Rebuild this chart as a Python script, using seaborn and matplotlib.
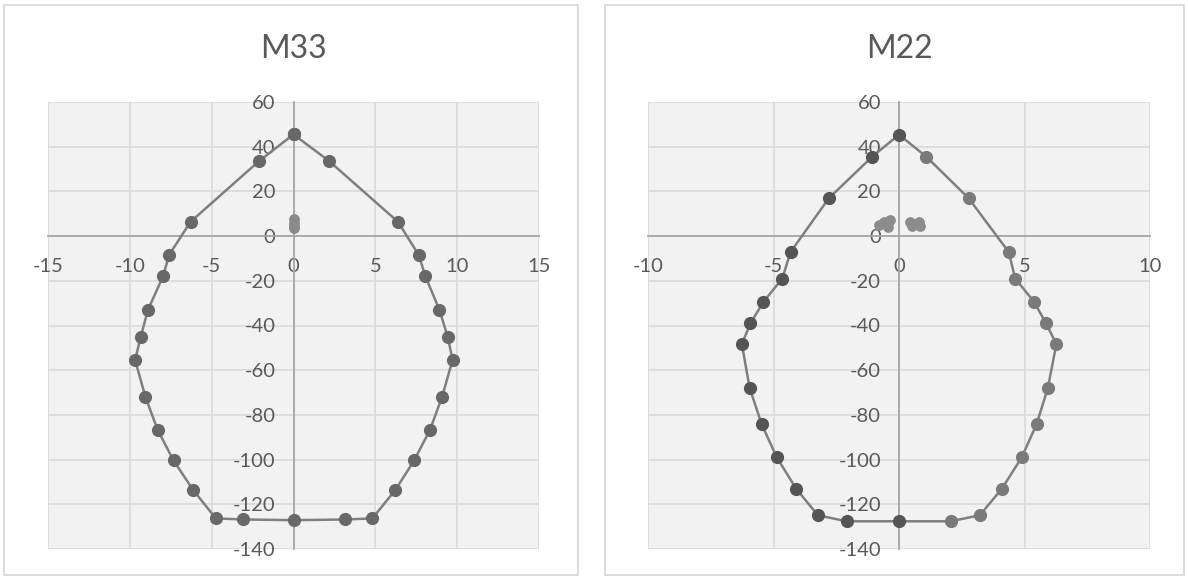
import matplotlib
matplotlib.use("Agg")
import matplotlib.pyplot as plt
import seaborn as sns
from matplotlib.patches import Rectangle

# M33 interaction curve, traced clockwise from the top
m33_x = [0, 2.17, 6.38, 7.65, 8.06, 8.92, 9.42, 9.72, 9.08, 8.34, 7.37, 6.22, 4.82, 3.16,
         0, -3.06, -4.75, -6.13, -7.33, -8.30, -9.05, -9.68, -9.33, -8.90, -7.97, -7.60,
         -6.29, -2.10, 0]
m33_y = [45.5, 33.6, 6.4, -8.4, -18.0, -33.1, -45.0, -55.4, -71.9, -86.7, -100.4, -113.6,
         -126.3, -126.8, -127.1, -126.8, -126.3, -113.6, -100.4, -86.7, -71.9, -55.4,
         -45.0, -33.1, -18.0, -8.4, 6.4, 33.6, 45.5]
# M33 demand points
m33_load_x = [0, 0, 0, 0]
m33_load_y = [7.5, 6.0, 4.5, 3.5]

# M22 interaction curve: negative-moment half and positive-moment half
m22_neg_x = [0, -1.07, -2.79, -4.32, -4.65, -5.40, -5.92, -6.26, -5.95, -5.47, -4.87,
             -4.10, -3.23, -2.09, 0]
m22_neg_y = [45.4, 35.5, 17.0, -7.1, -19.0, -29.4, -39.1, -48.3, -68.0, -84.2, -99.0,
             -113.0, -124.9, -127.6, -127.6]
m22_pos_x = [1.09, 2.77, 4.37, 4.63, 5.38, 5.86, 6.27, 5.93, 5.48, 4.89, 4.10, 3.22, 2.06]
m22_pos_y = [35.5, 17.0, -7.1, -19.0, -29.4, -39.1, -48.3, -68.0, -84.2, -99.0, -113.0,
             -124.9, -127.6]
# M22 demand points
m22_load_x = [-0.80, -0.60, -0.45, -0.35, 0.45, 0.50, 0.80, 0.85]
m22_load_y = [5.0, 6.5, 4.0, 7.0, 6.5, 4.5, 6.5, 4.5]

sns.set_theme(style="white")
plt.rcParams['font.family'] = ['Lato', 'DejaVu Sans']
plt.rcParams['axes.unicode_minus'] = False

W, H = 1188, 579
fig = plt.figure(figsize=(W / 100, H / 100), dpi=100)
fig.patch.set_facecolor('white')

# chart frames
for x0, x1 in [(4, 578), (605, 1184)]:
    fig.patches.append(Rectangle((x0 / W, 4 / H), (x1 - x0) / W, (575 - 5) / H,
                                 transform=fig.transFigure, fill=False,
                                 edgecolor='#d9d9d9', linewidth=1.3))

TXT = '#595959'
LINE = '#7f7f7f'


def style_axes(ax, xlim, xstep, title):
    ax.set_facecolor('#f2f2f2')
    ax.set_xlim(*xlim)
    ax.set_ylim(-140, 60)
    ax.set_xticks(range(xlim[0], xlim[1] + 1, xstep))
    ax.set_yticks(range(-140, 61, 20))
    ax.set_axisbelow(True)
    ax.grid(True, color='#d9d9d9', linewidth=1.2)
    for side in ('top', 'right'):
        ax.spines[side].set_visible(False)
    for side in ('left', 'bottom'):
        ax.spines[side].set_position(('data', 0))
        ax.spines[side].set_color('#a6a6a6')
        ax.spines[side].set_linewidth(1.3)
        ax.spines[side].set_zorder(0.6)
    ax.tick_params(axis='both', length=0, labelsize=14.5, labelcolor=TXT)
    ax.tick_params(axis='x', pad=16)
    ax.tick_params(axis='y', pad=13)
    ax.set_xlabel('')
    ax.set_ylabel('')
    ax.text(0.5, 1 + 44 / 447, title, transform=ax.transAxes, ha='center',
            va='baseline', fontsize=23, color=TXT)


# M33 panel
ax1 = fig.add_axes([48 / W, 30 / H, 491 / W, 447 / H])
sns.lineplot(x=m33_x, y=m33_y, sort=False, estimator=None, color=LINE,
             linewidth=1.8, ax=ax1)
sns.scatterplot(x=m33_x, y=m33_y, color='#686868', s=90, linewidth=0, ax=ax1, zorder=3)
sns.scatterplot(x=m33_load_x, y=m33_load_y, color='#8a8a8a', s=60,
                linewidth=0, ax=ax1, zorder=3)
style_axes(ax1, (-15, 15), 5, 'M33')

# M22 panel: closed loop through the positive half, then back up the negative half
ax2 = fig.add_axes([648 / W, 30 / H, 502 / W, 447 / H])
m22_x = m22_neg_x[:1] + m22_pos_x + m22_neg_x[::-1]
m22_y = m22_neg_y[:1] + m22_pos_y + m22_neg_y[::-1]
sns.lineplot(x=m22_x, y=m22_y, sort=False, estimator=None, color=LINE,
             linewidth=1.8, ax=ax2)
sns.scatterplot(x=m22_pos_x, y=m22_pos_y, color='#7a7a7a', s=90, linewidth=0, ax=ax2,
                zorder=3)
sns.scatterplot(x=m22_neg_x, y=m22_neg_y, color='#555555', s=90, linewidth=0, ax=ax2,
                zorder=3)
sns.scatterplot(x=m22_load_x, y=m22_load_y, color='#8c8c8c', s=60, linewidth=0,
                ax=ax2, zorder=3)
style_axes(ax2, (-10, 10), 5, 'M22')

fig.savefig('out.png', dpi=100, facecolor='white')
